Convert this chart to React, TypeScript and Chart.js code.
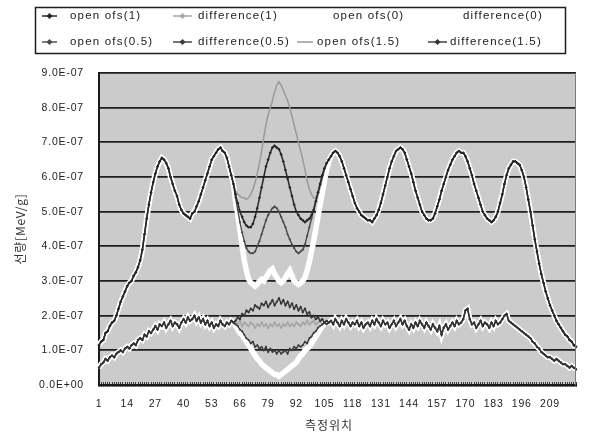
import React, { useEffect, useRef } from "react";
import { Chart, registerables } from "chart.js";

Chart.register(...registerables);

// measurement positions (categories 1..221)
const positions: string[] = Array.from({ length: 221 }, (_, i) => String(i + 1));
const xTickLabels = ["1", "14", "27", "40", "53", "66", "79", "92", "105", "118", "131", "144", "157", "170", "183", "196", "209"];

const seriesLabels = [
  "open ofs(1)", "difference(1)", "open ofs(0)", "difference(0)",
  "open ofs(0.5)", "difference(0.5)", "open ofs(1.5)", "difference(1.5)",
];

// values in units of 1e-7 MeV/g
// open curves, shared part, positions 1-63
const openLeft = [
  1.15, 1.25, 1.3, 1.5, 1.55, 1.7, 1.8, 1.85, 2.0, 2.2,
  2.4, 2.55, 2.7, 2.85, 2.95, 3.0, 3.15, 3.25, 3.4, 3.6,
  3.9, 4.35, 4.8, 5.2, 5.55, 5.85, 6.1, 6.3, 6.45, 6.55,
  6.5, 6.4, 6.25, 6.0, 5.8, 5.6, 5.45, 5.2, 5.05, 4.95,
  4.9, 4.85, 4.8, 4.95, 5.0, 5.15, 5.3, 5.5, 5.7, 5.9,
  6.1, 6.3, 6.5, 6.6, 6.7, 6.8, 6.85, 6.75, 6.7, 6.55,
  6.3, 6.05, 5.8,
];
// open curves, centre part, positions 64-107
const openCenter1 = [
  5.5, 5.25, 5.0, 4.85, 4.7, 4.6, 4.55, 4.55, 4.65, 4.85,
  5.1, 5.4, 5.7, 6.0, 6.3, 6.5, 6.7, 6.85, 6.9, 6.85,
  6.8, 6.65, 6.45, 6.2, 5.95, 5.7, 5.45, 5.2, 5.0, 4.9,
  4.8, 4.75, 4.7, 4.75, 4.8, 4.9, 5.05, 5.3, 5.55, 5.8,
  6.05, 6.25, 6.4, 6.5,
];
const openCenter0 = [
  5.3, 4.9, 4.45, 4.0, 3.6, 3.3, 3.05, 2.95, 2.9, 2.85,
  2.9, 3.0, 3.05, 3.0, 3.1, 3.2, 3.3, 3.35, 3.2, 3.1,
  3.0, 2.95, 3.0, 3.1, 3.2, 3.3, 3.15, 3.0, 2.95, 2.9,
  2.95, 3.0, 3.1, 3.3, 3.55, 3.85, 4.15, 4.5, 4.85, 5.2,
  5.55, 5.9, 6.2, 6.45,
];
const openCenter05 = [
  5.4, 5.05, 4.7, 4.4, 4.15, 3.95, 3.85, 3.8, 3.8, 3.85,
  4.0, 4.15, 4.35, 4.55, 4.75, 4.9, 5.0, 5.1, 5.15, 5.1,
  5.0, 4.85, 4.7, 4.55, 4.35, 4.2, 4.05, 3.95, 3.85, 3.8,
  3.85, 3.9, 4.05, 4.3, 4.55, 4.8, 5.05, 5.3, 5.55, 5.8,
  6.05, 6.25, 6.4, 6.5,
];
const openCenter15 = [
  5.6, 5.5, 5.45, 5.4, 5.4, 5.35, 5.4, 5.5, 5.65, 5.85,
  6.1, 6.4, 6.75, 7.15, 7.5, 7.8, 8.0, 8.2, 8.45, 8.65,
  8.75, 8.65, 8.5, 8.35, 8.2, 8.0, 7.75, 7.5, 7.25, 7.0,
  6.75, 6.5, 6.2, 5.9, 5.65, 5.5, 5.4, 5.4, 5.5, 5.7,
  5.95, 6.2, 6.4, 6.5,
];
// open curves, shared part, positions 108-221
const openRight = [
  6.6, 6.7, 6.75, 6.7, 6.6, 6.45, 6.25, 6.05, 5.85, 5.65,
  5.45, 5.25, 5.1, 5.0, 4.9, 4.85, 4.8, 4.75, 4.75, 4.7,
  4.8, 4.9, 5.05, 5.25, 5.5, 5.75, 6.0, 6.25, 6.45, 6.6,
  6.75, 6.8, 6.85, 6.8, 6.7, 6.5, 6.3, 6.1, 5.85, 5.6,
  5.4, 5.2, 5.0, 4.9, 4.8, 4.75, 4.75, 4.8, 4.95, 5.15,
  5.35, 5.6, 5.8, 6.0, 6.2, 6.35, 6.5, 6.6, 6.7, 6.75,
  6.7, 6.7, 6.6, 6.45, 6.25, 6.05, 5.8, 5.6, 5.4, 5.2,
  5.0, 4.9, 4.8, 4.75, 4.7, 4.75, 4.85, 5.0, 5.25, 5.5,
  5.8, 6.05, 6.25, 6.35, 6.45, 6.45, 6.4, 6.35, 6.2, 6.0,
  5.7, 5.35, 5.0, 4.6, 4.2, 3.85, 3.5, 3.2, 2.95, 2.7,
  2.5, 2.3, 2.15, 2.0, 1.85, 1.75, 1.65, 1.55, 1.45, 1.4,
  1.3, 1.25, 1.15, 1.1,
];

// difference curves, shared part, positions 1-63
const diffLeft = [
  0.5, 0.6, 0.65, 0.75, 0.7, 0.8, 0.85, 0.8, 0.9, 0.95,
  1.0, 0.95, 1.05, 1.1, 1.05, 1.15, 1.2, 1.15, 1.3, 1.35,
  1.3, 1.45, 1.4, 1.55, 1.5, 1.6, 1.7, 1.6, 1.75, 1.7,
  1.8, 1.65, 1.75, 1.85, 1.7, 1.8, 1.75, 1.65, 1.8, 1.9,
  1.8, 1.95, 1.85, 1.9, 2.0, 1.85, 1.95, 1.8, 1.9, 1.75,
  1.85, 1.7, 1.8, 1.65, 1.75, 1.7, 1.85, 1.75, 1.7, 1.8,
  1.75, 1.85, 1.8,
];
// difference curves, centre part, positions 64-107
const diffCenter1 = [
  1.8, 1.75, 1.85, 1.7, 1.8, 1.75, 1.7, 1.8, 1.75, 1.65,
  1.75, 1.7, 1.8, 1.7, 1.75, 1.65, 1.75, 1.7, 1.8, 1.7,
  1.75, 1.65, 1.75, 1.7, 1.8, 1.7, 1.75, 1.7, 1.8, 1.75,
  1.7, 1.8, 1.75, 1.85, 1.75, 1.8, 1.85, 1.75, 1.8, 1.85,
  1.75, 1.8, 1.85, 1.8,
];
const diffCenter0 = [
  1.7, 1.6, 1.5, 1.45, 1.35, 1.25, 1.15, 1.05, 0.95, 0.85,
  0.75, 0.7, 0.6, 0.55, 0.5, 0.45, 0.4, 0.35, 0.3, 0.3,
  0.25, 0.3, 0.35, 0.4, 0.45, 0.5, 0.55, 0.6, 0.65, 0.75,
  0.85, 0.9, 1.0, 1.05, 1.1, 1.2, 1.3, 1.4, 1.5, 1.6,
  1.7, 1.75, 1.8, 1.8,
];
const diffCenter05 = [
  1.75, 1.7, 1.6, 1.55, 1.45, 1.35, 1.3, 1.2, 1.25, 1.1,
  1.15, 1.05, 1.1, 1.0, 1.1, 0.95, 1.05, 0.95, 1.0, 0.9,
  1.0, 0.9, 0.95, 1.0, 0.9, 1.05, 1.0, 1.1, 1.05, 1.15,
  1.1, 1.15, 1.25, 1.2, 1.35, 1.4, 1.5, 1.55, 1.65, 1.7,
  1.75, 1.8, 1.75, 1.8,
];
const diffCenter15 = [
  1.85, 1.95, 1.9, 2.05, 2.0, 2.15, 2.1, 2.2, 2.15, 2.3,
  2.25, 2.2, 2.35, 2.3, 2.4, 2.25, 2.35, 2.45, 2.3, 2.4,
  2.5, 2.35, 2.45, 2.3, 2.4, 2.25, 2.35, 2.2, 2.3, 2.15,
  2.25, 2.1, 2.2, 2.05, 2.1, 1.95, 2.0, 1.9, 1.95, 1.85,
  1.9, 1.8, 1.85, 1.8,
];
// difference curves, shared part, positions 108-221
const diffRight = [
  1.85, 1.75, 1.9, 1.8, 1.7, 1.85, 1.75, 1.9, 1.8, 1.7,
  1.8, 1.75, 1.85, 1.7, 1.8, 1.65, 1.75, 1.8, 1.7, 1.85,
  1.75, 1.9, 1.8, 1.7, 1.85, 1.75, 1.8, 1.65, 1.75, 1.85,
  1.7, 1.8, 1.9, 1.75, 1.85, 1.7, 1.6, 1.75, 1.65, 1.8,
  1.7, 1.85, 1.75, 1.65, 1.8, 1.7, 1.6, 1.75, 1.65, 1.55,
  1.7, 1.45, 1.65, 1.75, 1.6, 1.7, 1.8, 1.7, 1.85, 1.75,
  1.8, 1.9, 2.15, 2.2, 1.9, 1.75, 1.8, 1.65, 1.75, 1.85,
  1.7, 1.8, 1.75, 1.65, 1.8, 1.7, 1.85, 1.75, 1.8, 1.9,
  2.0, 2.05, 1.85, 1.8, 1.75, 1.7, 1.65, 1.6, 1.55, 1.5,
  1.45, 1.4, 1.35, 1.25, 1.2, 1.1, 1.05, 0.95, 0.9, 0.85,
  0.8, 0.8, 0.75, 0.7, 0.75, 0.7, 0.65, 0.6, 0.6, 0.55,
  0.5, 0.55, 0.5, 0.45,
];

const UNIT = 1e-7;
const FONT = "'Liberation Sans', Arial, sans-serif";
const KFONT = "'Noto Sans CJK KR', 'Liberation Sans', sans-serif";

const seriesValues = [
  [...openLeft, ...openCenter1, ...openRight],
  [...diffLeft, ...diffCenter1, ...diffRight],
  [...openLeft, ...openCenter0, ...openRight],
  [...diffLeft, ...diffCenter0, ...diffRight],
  [...openLeft, ...openCenter05, ...openRight],
  [...diffLeft, ...diffCenter05, ...diffRight],
  [...openLeft, ...openCenter15, ...openRight],
  [...diffLeft, ...diffCenter15, ...diffRight],
];

const styles = [
  { color: "#262626", width: 1.5, radius: 1.6, order: 1 },
  { color: "#a6a6a6", width: 1.5, radius: 1.5, order: 5 },
  { color: "#ffffff", width: 5.5, radius: 0, order: 9 },
  { color: "#ffffff", width: 5.5, radius: 0, order: 9 },
  { color: "#484848", width: 1.4, radius: 1.3, order: 3 },
  { color: "#3c3c3c", width: 1.4, radius: 1.2, order: 3 },
  { color: "#9a9a9a", width: 1.5, radius: 0, order: 6 },
  { color: "#333333", width: 1.4, radius: 1.4, order: 2 },
];

const legendSlots = [
  { x1: 42, x2: 57, tx: 70, y: 16 },
  { x1: 173, x2: 192, tx: 198, y: 16 },
  { x1: 313, x2: 330, tx: 333, y: 16 },
  { x1: 440, x2: 460, tx: 463, y: 16 },
  { x1: 42, x2: 57, tx: 70, y: 42 },
  { x1: 173, x2: 192, tx: 198, y: 42 },
  { x1: 297, x2: 313, tx: 317, y: 42 },
  { x1: 428, x2: 447, tx: 450, y: 42 },
];

const spacingPlugin = {
  id: "spacing",
  beforeLayout(chart: any) { chart.ctx.letterSpacing = "0.8px"; },
  beforeDraw(chart: any) { chart.ctx.letterSpacing = "0.8px"; },
};

const bgPlugin = {
  id: "plotBg",
  beforeDraw(chart: any) {
    const { ctx, chartArea: a } = chart;
    ctx.save();
    ctx.fillStyle = "#cbcbcb";
    ctx.fillRect(a.left, a.top, a.right - a.left, a.bottom - a.top);
    ctx.restore();
  },
  afterDatasetsDraw(chart: any) {
    const { ctx, chartArea: a } = chart;
    ctx.save();
    ctx.strokeStyle = "#7a7a7a";
    ctx.lineWidth = 1;
    ctx.beginPath();
    ctx.moveTo(a.right - 0.5, a.top);
    ctx.lineTo(a.right - 0.5, a.bottom);
    ctx.stroke();
    ctx.restore();
  },
};

const legendPlugin = {
  id: "boxLegend",
  afterDraw(chart: any) {
    const ctx = chart.ctx;
    ctx.save();
    ctx.fillStyle = "#ffffff";
    ctx.fillRect(35, 7, 530, 46);
    ctx.strokeStyle = "#1e1e1e";
    ctx.lineWidth = 1.5;
    ctx.strokeRect(35.5, 7.5, 530, 46);
    chart.data.datasets.forEach((ds: any, i: number) => {
      const s = legendSlots[i];
      ctx.strokeStyle = ds.borderColor;
      ctx.lineWidth = Math.min(ds.borderWidth, 2);
      ctx.beginPath();
      ctx.moveTo(s.x1, s.y);
      ctx.lineTo(s.x2, s.y);
      ctx.stroke();
      if (ds.pointRadius > 0) {
        const cx = (s.x1 + s.x2) / 2;
        const r = 3;
        ctx.fillStyle = ds.borderColor;
        ctx.beginPath();
        ctx.moveTo(cx, s.y - r);
        ctx.lineTo(cx + r, s.y);
        ctx.lineTo(cx, s.y + r);
        ctx.lineTo(cx - r, s.y);
        ctx.closePath();
        ctx.fill();
      }
      ctx.letterSpacing = "1.2px";
      ctx.fillStyle = "#222222";
      ctx.font = `11.5px ${FONT}`;
      ctx.textBaseline = "middle";
      ctx.textAlign = "left";
      ctx.fillText(ds.label, s.tx, s.y);
    });
    // x-axis title
    ctx.letterSpacing = "1px";
    ctx.font = `12px ${KFONT}`;
    ctx.fillStyle = "#333333";
    ctx.textAlign = "center";
    ctx.textBaseline = "middle";
    ctx.fillText("측정위치", 329, 425);
    ctx.restore();
  },
};

export default function App() {
  const ref = useRef<HTMLCanvasElement>(null);

  useEffect(() => {
    document.body.style.margin = "0";
    const canvas = ref.current;
    if (!canvas) return;
    const datasets = seriesValues.map((vals, i) => ({
      label: seriesLabels[i],
      data: vals.map((v) => v * UNIT),
      borderColor: styles[i].color,
      backgroundColor: styles[i].color,
      borderWidth: styles[i].width,
      pointRadius: styles[i].radius,
      pointStyle: "rectRot",
      pointBorderWidth: 0,
      pointBackgroundColor: styles[i].color,
      tension: 0,
      fill: false,
      order: styles[i].order,
    }));

    const chart = new Chart(canvas, {
      type: "line",
      data: { labels: positions, datasets },
      options: {
        responsive: false,
        animation: false,
        events: [],
        layout: { padding: { top: 73, right: 2, left: 0, bottom: 0 } },
        plugins: {
          legend: { display: false },
          tooltip: { enabled: false },
          title: { display: false },
        },
        scales: {
          x: {
            offset: false,
            grid: {
              display: true,
              drawOnChartArea: false,
              drawTicks: true,
              tickLength: -3,
              color: "#3a3a3a",
              lineWidth: 1,
            },
            border: { display: true, color: "#1a1a1a", width: 2.5 },
            ticks: {
              autoSkip: false,
              maxRotation: 0,
              minRotation: 0,
              padding: 16,
              color: "#222222",
              font: { family: FONT, size: 10.5 },
              callback: (_v: any, i: number) =>
                xTickLabels.includes(positions[i]) ? positions[i] : "",
            },
            afterFit: (s: any) => { s.height = 53; },
          },
          y: {
            min: 0,
            max: 9 * UNIT,
            grid: { color: "#1e1e1e", lineWidth: 1.8, drawTicks: false },
            border: { display: true, color: "#1a1a1a", width: 2 },
            ticks: {
              stepSize: UNIT,
              padding: 15,
              color: "#222222",
              font: { family: FONT, size: 10.5 },
              callback: (v: any) => {
                const n = Math.round(Number(v) / UNIT * 10) / 10;
                return n === 0 ? "0.0E+00" : `${n.toFixed(1)}E-07`;
              },
            },
            title: {
              display: true,
              text: "선량[MeV/g]",
              color: "#333333",
              font: { family: KFONT, size: 12 },
              padding: { top: 13, bottom: 0 },
            },
            afterFit: (s: any) => { s.width = 99; },
          },
        },
      },
      plugins: [spacingPlugin, bgPlugin, legendPlugin],
    } as any);

    return () => chart.destroy();
  }, []);

  return <canvas ref={ref} width={592} height={438} style={{ display: "block" }} />;
}
